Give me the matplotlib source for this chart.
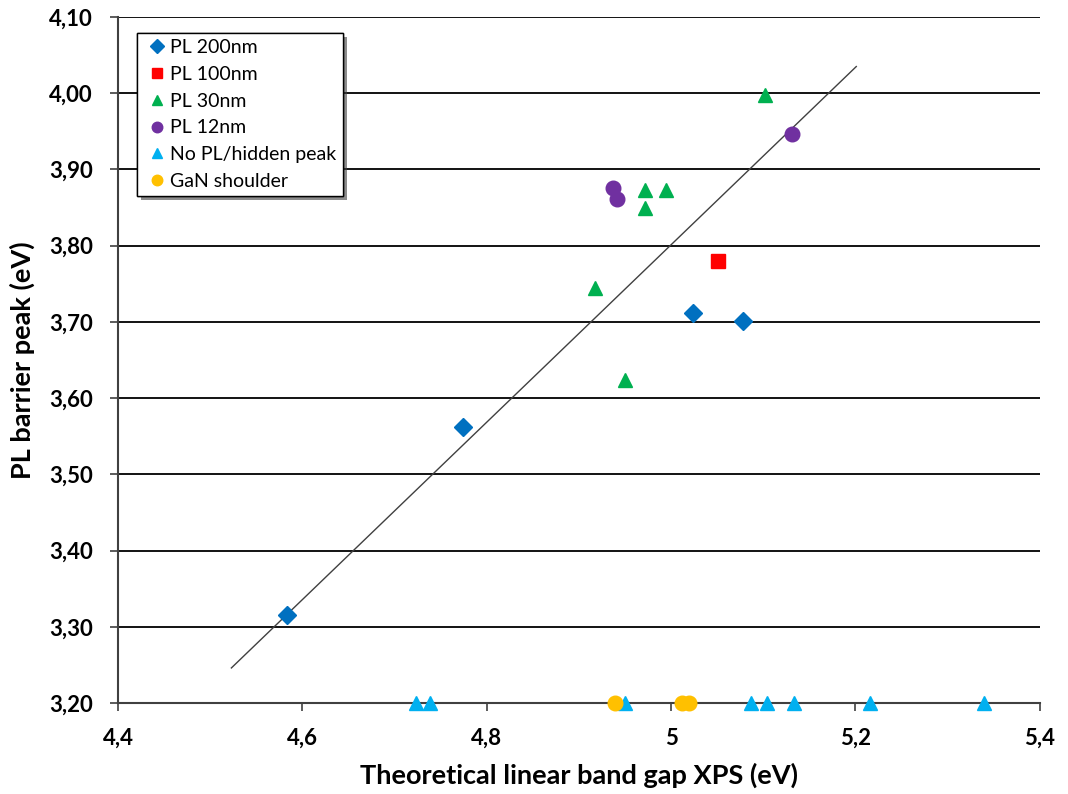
import matplotlib
matplotlib.use("Agg")
import matplotlib.pyplot as plt
import matplotlib.patheffects as pe
from matplotlib.ticker import FuncFormatter, MultipleLocator

# data
pl200_x = [4.583, 4.774, 5.024, 5.078]
pl200_y = [3.316, 3.562, 3.712, 3.701]
pl100_x = [5.051]
pl100_y = [3.780]
pl30_x = [5.102, 4.972, 4.995, 4.972, 4.917, 4.950]
pl30_y = [3.998, 3.873, 3.873, 3.849, 3.744, 3.624]
pl12_x = [5.131, 4.937, 4.941]
pl12_y = [3.947, 3.875, 3.861]
nopl_x = [4.723, 4.738, 4.950, 5.087, 5.104, 5.133, 5.216, 5.340]
nopl_y = [3.20] * 8
gan_x = [4.939, 5.012, 5.019]
gan_y = [3.20] * 3
trend_x = [4.523, 5.201]
trend_y = [3.246, 4.035]

plt.rcParams['font.family'] = ['Lato', 'DejaVu Sans']

fig = plt.figure(figsize=(10.68, 7.94), dpi=100)
ax = fig.add_axes([0.1105, 0.1146, 0.863, 0.864])

ax.plot(trend_x, trend_y, color='#404040', lw=1.0, zorder=2)

ax.plot(pl200_x, pl200_y, 'D', color='#0070C0', ms=9.5, label='PL 200nm', clip_on=False, zorder=4)
ax.plot(pl100_x, pl100_y, 's', color='#FF0000', ms=10, label='PL 100nm', clip_on=False, zorder=4)
ax.plot(pl30_x, pl30_y, '^', color='#00B050', ms=10, label='PL 30nm', clip_on=False, zorder=4)
ax.plot(pl12_x, pl12_y, 'o', color='#7030A0', ms=10.5, label='PL 12nm', clip_on=False, zorder=4)
ax.plot(nopl_x, nopl_y, '^', color='#00B0F0', ms=10, label='No PL/hidden peak', clip_on=False, zorder=4)
ax.plot(gan_x, gan_y, 'o', color='#FFC000', ms=10.5, label='GaN shoulder', clip_on=False, zorder=4)

ax.set_xlim(4.4, 5.4)
ax.set_ylim(3.2, 4.1)
ax.xaxis.set_major_locator(MultipleLocator(0.2))
ax.yaxis.set_major_locator(MultipleLocator(0.1))
ax.xaxis.set_major_formatter(FuncFormatter(lambda v, p: ('%g' % round(v, 1)).replace('.', ',')))
ax.yaxis.set_major_formatter(FuncFormatter(lambda v, p: ('%.2f' % v).replace('.', ',')))

ax.grid(axis='y', color='black', lw=1.3, zorder=1)
ax.set_axisbelow(True)
for s in ['top', 'right']:
    ax.spines[s].set_visible(False)
for s in ['left', 'bottom']:
    ax.spines[s].set_color('#404040')
    ax.spines[s].set_linewidth(1.5)

ax.tick_params(axis='both', direction='out', length=6, width=1.2, color='#404040', pad=12)
for lab in ax.get_xticklabels() + ax.get_yticklabels():
    lab.set_fontweight('bold')
    lab.set_fontsize(16)

ax.set_xlabel('Theoretical linear band gap XPS (eV)', fontsize=19.5, fontweight='bold', labelpad=10)
ax.set_ylabel('PL barrier peak (eV)', fontsize=19.5, fontweight='bold', labelpad=10)

leg = ax.legend(loc='upper left', bbox_to_anchor=(137 / 1068, 1 - 33 / 794),
                bbox_transform=fig.transFigure, borderaxespad=0,
                fontsize=14, frameon=True, framealpha=1, fancybox=False,
                handletextpad=0.0, handlelength=1.4, borderpad=0.32,
                labelspacing=0.5, markerscale=0.72)
leg.get_frame().set_edgecolor('black')
leg.get_frame().set_linewidth(1.0)
leg.get_frame().set_path_effects([pe.withSimplePatchShadow(offset=(3, -3), shadow_rgbFace='#404040', alpha=0.6), pe.Normal()])

fig.savefig('out.png', dpi=100)
